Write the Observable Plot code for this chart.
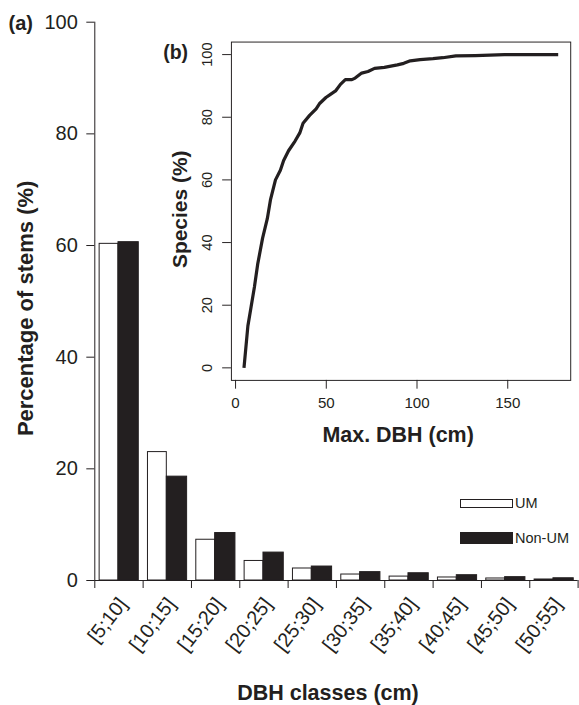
<!DOCTYPE html>
<html><head><meta charset="utf-8">
<script src="https://cdn.jsdelivr.net/npm/d3@7"></script>
<script src="https://cdn.jsdelivr.net/npm/@observablehq/plot@0.6"></script>
<style>
html,body{margin:0;padding:0;background:#fff;overflow:hidden;}
#wrap{position:relative;width:579px;height:705px;overflow:hidden;font-family:"Liberation Sans",Arial,Helvetica,sans-serif;color:#231f20;}
#main{position:absolute;left:0;top:0;}
#inset{position:absolute;left:150px;top:25px;}
.leg{position:absolute;left:460px;display:flex;align-items:center;font-size:14.5px;line-height:1;}
.sw{width:53px;box-sizing:border-box;border:1px solid #231f20;margin-right:2px;}
</style></head>
<body><div id="wrap"><div id="main"></div><div id="inset"></div>
<div class="leg" style="top:494px;height:18px;"><div class="sw" style="height:9px;background:#fff;"></div><span id="lg0"></span></div>
<div class="leg" style="top:527px;height:22px;"><div class="sw" style="height:12px;background:#231f20;"></div><span id="lg1"></span></div>
</div>
<script>
// ---- Data ----
const dbhClasses = ["[5;10]", "[10;15]", "[15;20]", "[20;25]", "[25;30]", "[30;35]", "[35;40]", "[40;45]", "[45;50]", "[50;55]"];
const umPct = [60.3, 23.0, 7.3, 3.5, 2.15, 1.07, 0.7, 0.54, 0.36, 0.18];
const nonUmPct = [60.6, 18.6, 8.5, 5.0, 2.5, 1.5, 1.3, 0.95, 0.6, 0.4];
const seriesNames = ["UM", "Non-UM"];
const mainYTicks = [0, 20, 40, 60, 80, 100];

const maxDbh = [4.65, 6.8, 8.6, 10.4, 12.2, 14.9, 17.5, 19.3, 22.0, 24.7, 26.5, 29.2, 32.8, 35.4, 37.2, 40.8, 44.4, 46.2, 49.8, 52.5, 55.1, 57.8, 60.5, 64.1, 65.9, 69.5, 73.0, 76.6, 82.0, 89.2, 92.7, 96.3, 101.7, 108.8, 114.2, 121.4, 132.1, 148.2, 177.8];
const speciesPct = [0, 13.4, 19.6, 25.8, 33.1, 41.4, 47.6, 53.8, 60.0, 63.1, 66.2, 69.3, 72.4, 75.0, 78.1, 80.6, 82.7, 84.3, 86.3, 87.4, 88.4, 90.5, 92.0, 92.0, 92.5, 94.1, 94.6, 95.6, 95.9, 96.7, 97.2, 98.0, 98.4, 98.7, 99.0, 99.6, 99.7, 100, 100];
const insetXTicks = [0, 50, 100, 150];
const insetYTicks = [0, 20, 40, 60, 80, 100];

// ---- Tables ----
const bars = [];
dbhClasses.forEach((c, i) => {
  bars.push({cls: c, idx: i, series: seriesNames[0], value: umPct[i]});
  bars.push({cls: c, idx: i, series: seriesNames[1], value: nonUmPct[i]});
});
const curve = maxDbh.map((x, i) => ({dbh: x, pct: speciesPct[i]}));

const ink = "#231f20";
const font = '"Liberation Sans", Arial, Helvetica, sans-serif';

const main = Plot.plot({
  width: 579, height: 705,
  marginLeft: 94.3, marginRight: 1.4, marginTop: 21.7, marginBottom: 125,
  x: {type: "linear", domain: [0, 10], axis: null},
  y: {domain: [0, 100], axis: null},
  style: {fontFamily: font, color: ink, background: "transparent", overflow: "visible"},
  marks: [
    Plot.rect(bars, {
      x1: d => d.idx + (d.series === "UM" ? 0.1 : 0.49),
      x2: d => d.idx + (d.series === "UM" ? 0.49 : 0.91),
      y1: 0, y2: "value",
      fill: d => d.series === "UM" ? "#ffffff" : ink,
      stroke: ink, strokeWidth: 1
    }),
    Plot.ruleY([0], {x1: 0, x2: 10, stroke: ink, strokeWidth: 1}),
    Plot.ruleX([0], {y1: 0, y2: 100, stroke: ink, strokeWidth: 1}),
    Plot.axisY({ticks: mainYTicks, tickSize: 8, tickPadding: 9, fontSize: 20, label: null}),
    Plot.axisX({ticks: d3.range(0, 11), tickSize: 8, tickFormat: () => "", label: null}),
    Plot.text(dbhClasses, {x: (d, i) => i + 0.5, y: 0, rotate: -52, textAnchor: "end", lineAnchor: "middle", dx: 4, dy: 20, fontSize: 20, fill: ink}),
    Plot.text(["Percentage of stems (%)"], {frameAnchor: "left", rotate: -90, textAnchor: "middle", lineAnchor: "middle", dx: -69.3, dy: 7, fontSize: 22, fontWeight: "bold", fill: ink}),
    Plot.text(["DBH classes (cm)"], {frameAnchor: "bottom", textAnchor: "middle", lineAnchor: "middle", dx: -8.5, dy: 113, fontSize: 21.5, fontWeight: "bold", fill: ink}),
    Plot.text(["(a)"], {frameAnchor: "top-left", textAnchor: "start", lineAnchor: "middle", dx: -86.3, dy: 1.5, fontSize: 20, fontWeight: "bold", fill: ink})
  ]
});
document.getElementById("main").append(main);

const inset = Plot.plot({
  width: 440, height: 460,
  marginLeft: 83, marginRight: 9, marginTop: 17, marginBottom: 96,
  x: {domain: [-2.28, 184.7], axis: null},
  y: {domain: [-4, 104], axis: null},
  style: {fontFamily: font, color: ink, background: "transparent", overflow: "visible"},
  marks: [
    Plot.frame({stroke: ink, strokeWidth: 1}),
    Plot.line(curve, {x: "dbh", y: "pct", stroke: ink, strokeWidth: 3.3, strokeLinejoin: "round", strokeLinecap: "butt"}),
    Plot.axisX({ticks: insetXTicks, tickSize: 9, tickPadding: 8, fontSize: 15.5, label: null}),
    Plot.axisY({ticks: insetYTicks, tickSize: 9, tickFormat: () => "", label: null}),
    Plot.text(insetYTicks, {y: d => d, frameAnchor: "left", rotate: -90, textAnchor: "middle", lineAnchor: "middle", dx: -25, fontSize: 15, fill: ink}),
    Plot.text(["Species (%)"], {frameAnchor: "left", rotate: -90, textAnchor: "middle", lineAnchor: "middle", dx: -52, dy: -2, fontSize: 21.5, fontWeight: "bold", fill: ink}),
    Plot.text(["Max. DBH (cm)"], {frameAnchor: "bottom", textAnchor: "middle", lineAnchor: "middle", dx: -3, dy: 56, fontSize: 22, fontWeight: "bold", fill: ink}),
    Plot.text(["(b)"], {frameAnchor: "top-left", textAnchor: "start", lineAnchor: "middle", dx: -70, dy: 11, fontSize: 20, fontWeight: "bold", fill: ink})
  ]
});
document.getElementById("inset").append(inset);

document.getElementById("lg0").textContent = seriesNames[0];
document.getElementById("lg1").textContent = seriesNames[1];
</script>
</body></html>
